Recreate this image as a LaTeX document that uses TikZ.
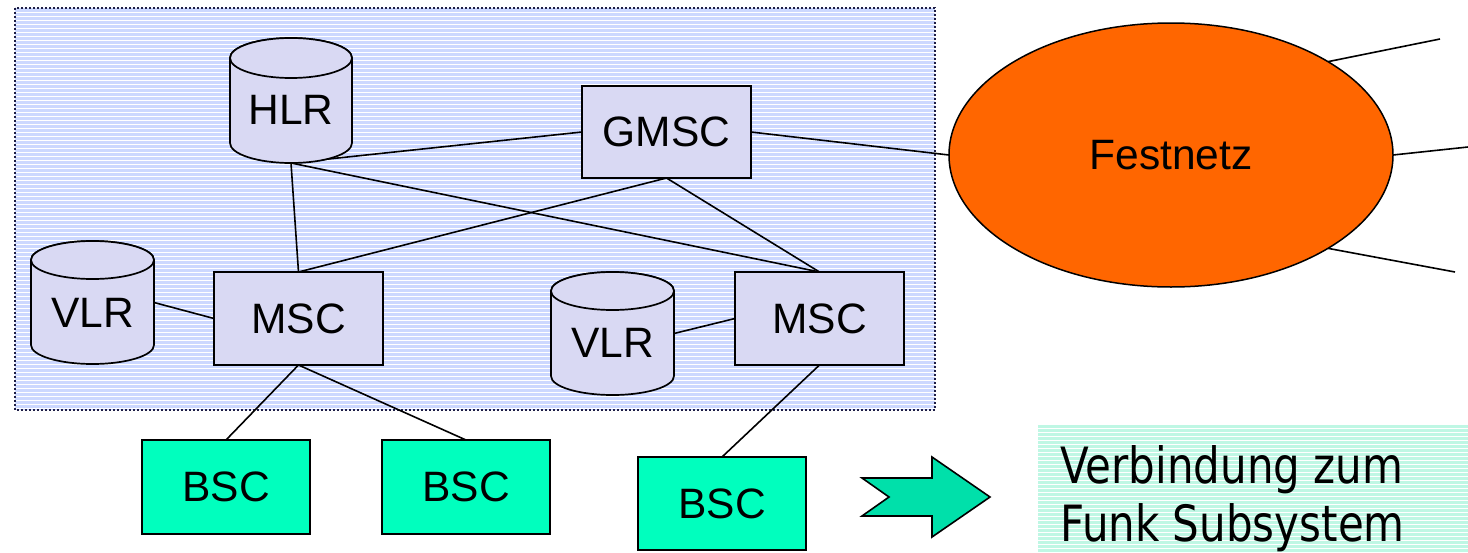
\documentclass[tikz,border=0pt]{standalone}
\usepackage{fontspec}
\setmainfont{Liberation Sans}
\newfontfamily\notefont[FakeStretch=0.84]{DejaVu Sans}
\usetikzlibrary{shapes.geometric}

\definecolor{netblue}{RGB}{204,216,255}
\definecolor{netmint}{RGB}{191,247,228}
\definecolor{unitfill}{RGB}{217,217,243}
\definecolor{bscfill}{RGB}{0,255,190}
\definecolor{arrowfill}{RGB}{0,224,170}
\definecolor{fixedorange}{RGB}{255,102,0}
\definecolor{dotnavy}{RGB}{30,30,70}

\pgfdeclarelayer{backdrop}
\pgfdeclarelayer{links}
\pgfsetlayers{backdrop,links,main}

\tikzset{
  labelfont/.style={font=\fontsize{42.5}{50}\selectfont},
  unitbox/.style={draw=black, line width=1.8pt, fill=unitfill,
    minimum width=169pt, minimum height=93pt, inner sep=0pt, outer sep=0pt, labelfont},
  bscbox/.style={unitbox, fill=bscfill, minimum width=168pt, minimum height=94pt},
  cylbody/.style={draw=black, line width=1.7pt, fill=unitfill},
  cylnode/.style={inner sep=0pt, outer sep=0pt},
  cyltext/.style={inner sep=0pt, labelfont},
  link/.style={draw=black, line width=1.6pt},
  netcloud/.style={ellipse, draw=black, line width=1.5pt, fill=fixedorange,
    minimum width=444pt, minimum height=264pt, inner sep=0pt, outer sep=0pt, labelfont},
  notetext/.style={inner sep=0pt, font=\notefont\fontsize{50}{58}\selectfont},
}

% database cylinder: name, centre x, top, bottom, x radius, y radius, label, label y
\newcommand\dbstore[8]{%
  \path[cylbody] (#2-#5,#3+#6) -- (#2-#5,#4-#6)
    arc[start angle=180, end angle=360, x radius=#5pt, y radius=#6pt]
    -- (#2+#5,#3+#6)
    arc[start angle=0, end angle=180, x radius=#5pt, y radius=#6pt] -- cycle;
  \draw[cylbody] (#2,#3+#6) ellipse[x radius=#5pt, y radius=#6pt];
  \node[cylnode, minimum width={2*#5*1pt}, minimum height={(#4-#3)*1pt}]
    (#1) at (#2,{(#3+#4)/2}) {};
  \node[cyltext] (#1-label) at (#2,#8) {#7};
}

\begin{document}
\begin{tikzpicture}[x=1pt, y=-1pt]
\useasboundingbox (0,0) rectangle (1468,552);

% striped backdrops
\begin{pgfonlayer}{backdrop}
  \fill[netblue] (15,8) rectangle (935,410);
  \foreach \y in {12,16,...,408}
    \draw[white, line width=1pt] (15,\y) -- (935,\y);
  \draw[dotnavy, line width=1.5pt, dash pattern=on 2pt off 2pt] (15,8) rectangle (935,410);
  \fill[netmint] (1038,425) rectangle (1468,552);
  \foreach \y in {428,432,...,552}
    \draw[white, line width=1pt] (1038,\y) -- (1468,\y);
\end{pgfonlayer}

% databases
\dbstore{hlr}{291}{38}{163}{61}{20}{HLR}{110}
\dbstore{vlra}{92.5}{241}{364}{61.5}{19}{VLR}{313}
\dbstore{vlrb}{612.5}{272}{395}{61.5}{19}{VLR}{343}

% switching centres
\node[unitbox, minimum height=92pt] (gmsc) at (666.5,132) {GMSC};
\node[unitbox] (msca) at (298.5,318.5) {MSC};
\node[unitbox] (mscb) at (819.5,318.5) {MSC};

% base station controllers
\node[bscbox] (bsca) at (226,487) {BSC};
\node[bscbox] (bscb) at (466,487) {BSC};
\node[bscbox, minimum height=93pt] (bscc) at (722,503.5) {BSC};

% fixed network
\node[netcloud] (fest) at (1171,155) {Festnetz};
\coordinate (outa) at (1440,39);
\coordinate (outb) at (1468,147);
\coordinate (outc) at (1455,272);

% connections
\begin{pgfonlayer}{links}
  \draw[link] (hlr.south) -- (gmsc.west);
  \draw[link] (hlr.south) -- (msca.north);
  \draw[link] (hlr.south) -- (mscb.north);
  \draw[link] (gmsc.south) -- (msca.north);
  \draw[link] (gmsc.south) -- (mscb.north);
  \draw[link] (gmsc.east) -- (fest.west);
  \draw[link] (vlra.east) -- (msca.west);
  \draw[link] (vlrb.east) -- (mscb.west);
  \draw[link] (msca.south) -- (bsca.north);
  \draw[link] (msca.south) -- (bscb.north);
  \draw[link] (mscb.south) -- (bscc.north);
  \draw[link] (fest.north east) -- (outa);
  \draw[link] (fest.east) -- (outb);
  \draw[link] (fest.south east) -- (outc);
\end{pgfonlayer}

% block arrow
\draw[fill=arrowfill, line width=1.6pt, line join=miter]
  (862,478) -- (932,478) -- (932,457) -- (990,497) -- (932,537)
  -- (932,516) -- (862,516) -- (889,497) -- cycle;

% note text
\node[notetext, anchor=base west] (funka) at (1060,483) {Verbindung zum};
\node[notetext, anchor=base west] (funkb) at (1060,541) {Funk Subsystem};
\end{tikzpicture}
\end{document}
